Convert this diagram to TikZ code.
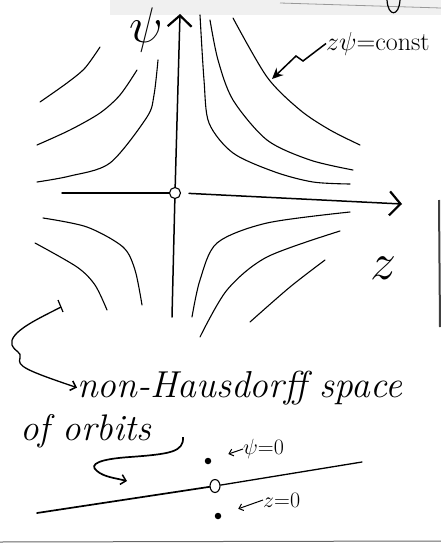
\RequirePackage{fix-cm}
\documentclass[tikz,border=0pt]{standalone}
\usetikzlibrary{arrows.meta,shapes.geometric}
\begin{document}
\begin{tikzpicture}[x=1pt,y=-1pt,
  curve/.style={line width=1.1pt,line cap=round,line join=round},
  axis/.style={line width=1.5pt,line cap=round},
  barb/.style={-{Straight Barb[length=11pt,width=24pt,line width=2.2pt]}},
  openpt/.style={circle,draw,fill=white,line width=1.1pt,inner sep=0pt,minimum size=11pt},
  dotpt/.style={circle,fill=black,inner sep=0pt,minimum size=6.5pt},
  hand/.style={font=\fontsize{37}{44}\selectfont\itshape,inner sep=0pt},
  small/.style={font=\fontsize{22}{24}\selectfont,inner sep=0pt},
  pointer/.style={line width=1pt,-{Straight Barb[length=4pt,width=7pt]}},
  scan/.style={line width=0.8pt,black!70}]
\useasboundingbox (0,0) rectangle (441,544);
% scan traces
\fill[black!6] (110,0) rectangle (441,15);
\draw[scan,black!40] (280,3) -- (441,8);
\draw[line width=1.2pt] (387,0) .. controls (388,17) and (399,17) .. (400,0);
\draw[line width=2pt,black!75] (439,200) -- (440,327);
\draw[line width=1pt,black!60] (0,542) -- (441,541);
% axes
\node[openpt] (O) at (175,193) {};
\coordinate (ytop) at (180,14);
\coordinate (ybot) at (172,317);
\coordinate (xleft) at (62,193);
\coordinate (xright) at (402,204);
\draw[axis,barb] (O) -- (ytop);
\draw[axis] (O) -- (ybot);
\draw[axis] (O.west) -- (xleft);
\draw[axis,barb,shorten <=8pt] (O.east) -- (xright);
\node[inner sep=0pt,font=\fontsize{50}{50}\selectfont] (psil) at (146,30) {$\psi$};
\node[inner sep=0pt,font=\fontsize{52}{52}\selectfont] (zl) at (383,268) {$z$};
% hyperbolas, upper right
\draw[curve] plot[smooth] coordinates {(200,15) (204,80) (209,123) (233,153) (275,172) (313,182) (350,184)};
\draw[curve] plot[smooth] coordinates {(210,20) (218,60) (233,100) (267,140) (310,160) (353,170)};
\draw[curve] plot[smooth] coordinates {(233,18) (267,77) (300,110) (330,130) (360,145)};
% upper left
\draw[curve] plot[smooth] coordinates {(158,60) (154,95) (147,117) (110,163) (70,176) (37,182)};
\draw[curve] plot[smooth] coordinates {(137,70) (120,95) (100,113) (70,130) (37,145)};
\draw[curve] plot[smooth] coordinates {(100,47) (85,68) (67,83) (40,102)};
% lower left
\draw[curve] plot[smooth] coordinates {(43,218) (87,227) (123,247) (135,270) (142,305)};
\draw[curve] plot[smooth] coordinates {(35,243) (77,267) (95,285) (107,310)};
% lower right
\draw[curve] plot[smooth] coordinates {(192,317) (200,280) (217,243) (267,223) (350,212)};
\draw[curve] plot[smooth] coordinates {(200,337) (227,290) (267,257) (340,231)};
\draw[curve] plot[smooth] coordinates {(250,322) (290,287) (325,260)};
% top right label with zig-zag pointer
\node[inner sep=0pt,anchor=base west,font=\fontsize{26}{26}\selectfont] (zpsi) at (326,50) {$z\psi{=}$const};
\coordinate (zz1) at (303,61);
\coordinate (zz2) at (296,56);
\coordinate (hyp) at (272,79);
\draw[line width=1.5pt,-{Stealth[length=11pt,width=10pt]}] (zpsi.west) -- (zz1) -- (zz2) -- (hyp);
% bottom: text
\node[hand,font=\fontsize{37.5}{44}\selectfont\itshape,anchor=base west] (t1) at (77,397) {non-Hausdorff space};
\node[hand,anchor=base west] (t2) at (20,440) {of orbits};
\coordinate (c0) at (61,307);
\draw[line width=1.2pt] (58,300) -- (63,312);
\draw[line width=1.3pt,-{Straight Barb[length=5pt,width=10pt,line width=1.6pt]}]
  (c0) .. controls (40,318) and (8,332) .. (12,345)
  .. controls (15,352) and (22,352) .. (20,358)
  .. controls (17,366) and (25,370) .. (t1.west);
\coordinate (u0) at (183,437);
\coordinate (u1) at (127,481);
\draw[line width=1.7pt,-{Straight Barb[length=5pt,width=10pt,line width=1.5pt]}]
  (u0) .. controls (184,452) and (170,454) .. (130,457)
  .. controls (100,459) and (88,464) .. (97,471)
  .. controls (104,477) and (115,478) .. (u1);
% space of orbits
\coordinate (L1) at (37,513);
\coordinate (L2) at (362,462);
\node[draw,fill=white,line width=1.1pt,inner sep=0pt,minimum width=10pt,minimum height=13pt,ellipse] (Q) at (215,486) {};
\draw[line width=1.7pt,line cap=round] (L1) -- (Q);
\draw[line width=1.3pt,line cap=round] (Q) -- (L2);
\node[dotpt] (dpsi) at (208,461) {};
\node[dotpt] (dz) at (218,516) {};
\node[small,anchor=west] (lpsi) at (243,449) {$\psi{=}0$};
\node[small,anchor=west] (lz) at (263,500) {$z{=}0$};
\draw[pointer,shorten >=18pt] (lpsi.west) -- (dpsi);
\draw[pointer,shorten >=18pt] (lz.west) -- (dz);
\end{tikzpicture}
\end{document}
